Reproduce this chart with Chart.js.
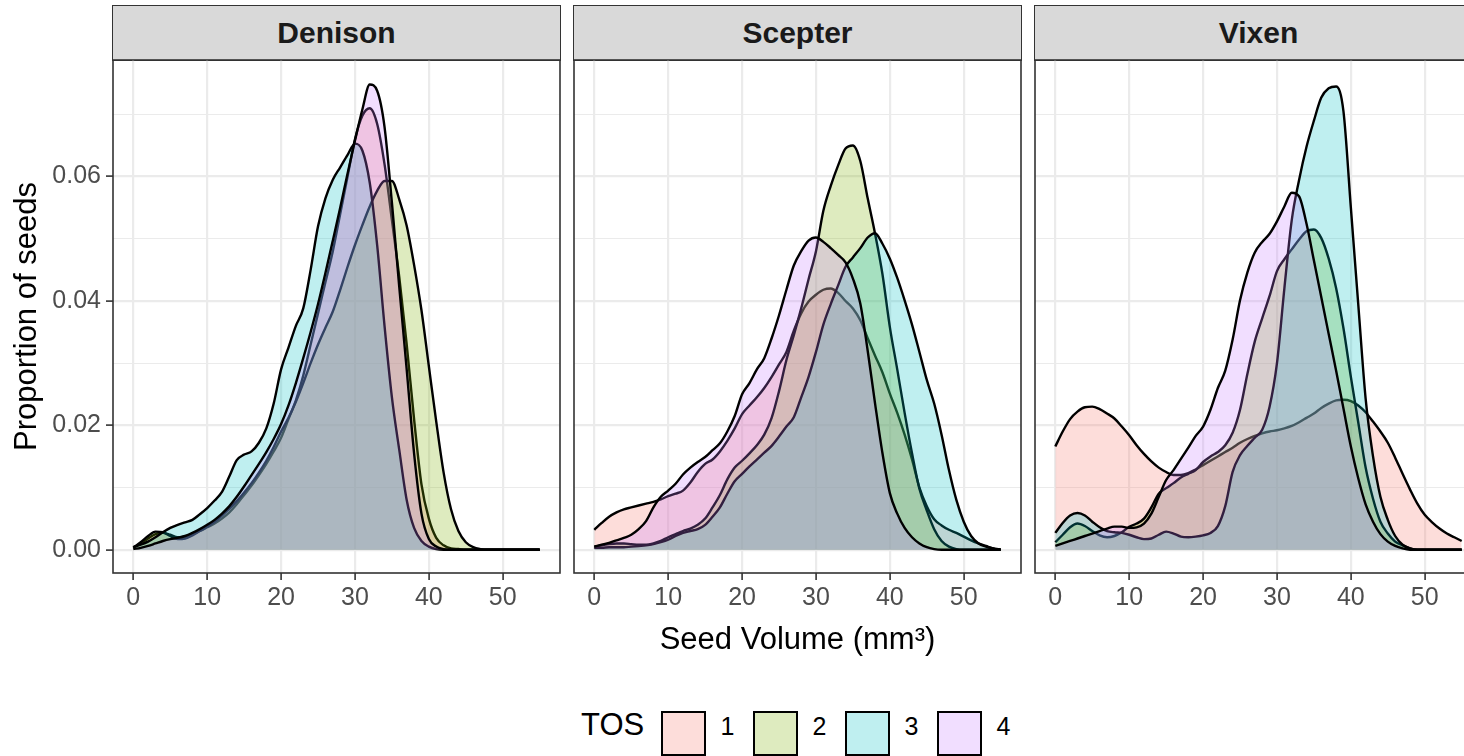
<!DOCTYPE html>
<html>
<head>
<meta charset="utf-8">
<script src="https://cdn.jsdelivr.net/npm/chart.js@4.4.1/dist/chart.umd.min.js"></script>
<style>
  html, body { margin: 0; padding: 0; background: #fff; }
  body { width: 1464px; height: 756px; overflow: hidden; position: relative; font-family: 'Liberation Sans', Arial, sans-serif; }
  canvas { position: absolute; }
  .strip { position: absolute; top: 5px; height: 56px; box-sizing: border-box; background: #D9D9D9; border: 1.6px solid #333333;
           display: flex; align-items: center; justify-content: center; font-weight: bold; font-size: 30px; color: #1A1A1A; }
  .legend-text { position: absolute; line-height: 1; color: #000; white-space: nowrap; }
  .legend-key { position: absolute; width: 45px; height: 45px; box-sizing: border-box; border: 2px solid #000; }
</style>
</head>
<body>
<script>
// seed volume grid (mm^3) the densities were read at
const seedVolume = [0, 1, 2, 3, 4, 5, 6, 7, 8, 9, 10, 11, 12, 13, 14, 15, 16, 17, 18, 19,
  20, 21, 22, 23, 24, 25, 26, 27, 28, 29, 30, 31, 32, 33, 34, 35, 36, 37, 38, 39,
  40, 41, 42, 43, 44, 45, 46, 47, 48, 49, 50, 51, 52, 53, 54, 55];

const xTicks = [0, 10, 20, 30, 40, 50];
const yTicks = [0, 0.01, 0.02, 0.03, 0.04, 0.05, 0.06, 0.07];
const varieties = ['Denison', 'Scepter', 'Vixen'];
const tosLabels = ['1', '2', '3', '4'];
const tosColors = ['248,118,109', '124,174,0', '0,191,196', '199,124,255'];

// Denison
const denisonTos1 = [0.0004, 0.0010, 0.0018, 0.0025, 0.0027, 0.0024, 0.0020, 0.0021, 0.0025, 0.0030,
  0.0036, 0.0042, 0.0050, 0.0060, 0.0073, 0.0088, 0.0103, 0.0120, 0.0138, 0.0158,
  0.0180, 0.0210, 0.0240, 0.0280, 0.0330, 0.0380, 0.0430, 0.0480, 0.0540, 0.0600,
  0.0660, 0.0698, 0.0710, 0.0685, 0.0620, 0.0530, 0.0438, 0.0330, 0.0210, 0.0105,
  0.0050, 0.0019, 0.0007, 0.0002, 0.0001, 0, 0, 0, 0, 0, 0, 0, 0, 0, 0, 0];
const denisonTos2 = [0.0003, 0.0012, 0.0022, 0.0029, 0.0028, 0.0022, 0.0017, 0.0018, 0.0023, 0.0030,
  0.0037, 0.0045, 0.0055, 0.0066, 0.0078, 0.0092, 0.0107, 0.0124, 0.0143, 0.0165,
  0.0190, 0.0212, 0.0238, 0.0268, 0.0300, 0.0330, 0.0357, 0.0383, 0.0418, 0.0455,
  0.0490, 0.0522, 0.0552, 0.0577, 0.0593, 0.0593, 0.0563, 0.0521, 0.0458, 0.0385,
  0.0295, 0.0206, 0.0124, 0.0065, 0.0030, 0.0012, 0.0004, 0.0001, 0, 0, 0, 0, 0, 0, 0, 0];
const denisonTos3 = [0.0004, 0.0008, 0.0013, 0.0020, 0.0028, 0.0035, 0.0040, 0.0044, 0.0048, 0.0057,
  0.0067, 0.0079, 0.0093, 0.0118, 0.0144, 0.0153, 0.0158, 0.0172, 0.0195, 0.0235,
  0.0290, 0.0325, 0.0360, 0.0388, 0.0450, 0.0520, 0.0565, 0.0595, 0.0615, 0.0635,
  0.0653, 0.0642, 0.0590, 0.0490, 0.0360, 0.0245, 0.0160, 0.0080, 0.0035, 0.0014,
  0.0005, 0.0001, 0, 0, 0, 0, 0, 0, 0, 0, 0, 0, 0, 0, 0, 0];
const denisonTos4 = [0.0001, 0.0003, 0.0006, 0.0010, 0.0014, 0.0017, 0.0019, 0.0022, 0.0027, 0.0033,
  0.0040, 0.0048, 0.0058, 0.0070, 0.0085, 0.0102, 0.0120, 0.0138, 0.0157, 0.0178,
  0.0202, 0.0232, 0.0268, 0.0308, 0.0350, 0.0395, 0.0445, 0.0497, 0.0550, 0.0605,
  0.0658, 0.0708, 0.0748, 0.0738, 0.0680, 0.0558, 0.0422, 0.0290, 0.0155, 0.0058,
  0.0017, 0.0005, 0.0001, 0, 0, 0, 0, 0, 0, 0, 0, 0, 0, 0, 0, 0];

// Scepter
const scepterTos1 = [0.0032, 0.0043, 0.0053, 0.0060, 0.0065, 0.0068, 0.0071, 0.0074, 0.0077, 0.0081,
  0.0086, 0.0090, 0.0095, 0.0108, 0.0125, 0.0138, 0.0145, 0.0158, 0.0175, 0.0195,
  0.0218, 0.0232, 0.0245, 0.0260, 0.0278, 0.0298, 0.0318, 0.0352, 0.0380, 0.0399,
  0.0410, 0.0418, 0.0420, 0.0413, 0.0400, 0.0388, 0.0369, 0.0340, 0.0312, 0.0285,
  0.0251, 0.0220, 0.0185, 0.0145, 0.0100, 0.0070, 0.0049, 0.0039, 0.0032, 0.0027,
  0.0021, 0.0015, 0.0010, 0.0006, 0.0002, 0];
const scepterTos2 = [0.0005, 0.0007, 0.0009, 0.0010, 0.0010, 0.0009, 0.0008, 0.0008, 0.0010, 0.0014,
  0.0020, 0.0025, 0.0030, 0.0034, 0.0040, 0.0050, 0.0068, 0.0088, 0.0113, 0.0132,
  0.0143, 0.0155, 0.0168, 0.0185, 0.0212, 0.0255, 0.0305, 0.0345, 0.0388, 0.0435,
  0.0480, 0.0545, 0.0585, 0.0618, 0.0645, 0.0650, 0.0625, 0.0565, 0.0508, 0.0443,
  0.0358, 0.0290, 0.0220, 0.0155, 0.0098, 0.0063, 0.0033, 0.0014, 0.0005, 0.0001,
  0, 0, 0, 0, 0, 0];
const scepterTos3 = [0.0003, 0.0003, 0.0004, 0.0004, 0.0004, 0.0005, 0.0006, 0.0007, 0.0009, 0.0012,
  0.0016, 0.0022, 0.0027, 0.0030, 0.0033, 0.0040, 0.0053, 0.0068, 0.0090, 0.0110,
  0.0122, 0.0134, 0.0145, 0.0156, 0.0167, 0.0182, 0.0198, 0.0213, 0.0245, 0.0278,
  0.0318, 0.0362, 0.0395, 0.0425, 0.0455, 0.0470, 0.0485, 0.0502, 0.0509, 0.0492,
  0.0468, 0.0437, 0.0401, 0.0362, 0.0318, 0.0273, 0.0235, 0.0185, 0.0128, 0.0080,
  0.0045, 0.0022, 0.0010, 0.0005, 0.0002, 0];
const scepterTos4 = [0.0005, 0.0008, 0.0011, 0.0015, 0.0019, 0.0024, 0.0033, 0.0046, 0.0068, 0.0085,
  0.0095, 0.0106, 0.0121, 0.0132, 0.0141, 0.0149, 0.0160, 0.0171, 0.0190, 0.0215,
  0.0250, 0.0268, 0.0290, 0.0308, 0.0340, 0.0377, 0.0418, 0.0457, 0.0480, 0.0497,
  0.0502, 0.0495, 0.0485, 0.0474, 0.0462, 0.0436, 0.0396, 0.0320, 0.0235, 0.0155,
  0.0091, 0.0058, 0.0035, 0.0020, 0.0010, 0.0004, 0.0001, 0, 0, 0, 0, 0, 0, 0, 0, 0];

// Vixen
const vixenTos1 = [0.0166, 0.0190, 0.0210, 0.0222, 0.0229, 0.0230, 0.0226, 0.0219, 0.0211, 0.0198,
  0.0184, 0.0168, 0.0154, 0.0142, 0.0132, 0.0125, 0.0120, 0.0120, 0.0123, 0.0129,
  0.0136, 0.0143, 0.0150, 0.0157, 0.0164, 0.0172, 0.0178, 0.0183, 0.0187, 0.0190,
  0.0192, 0.0195, 0.0199, 0.0205, 0.0212, 0.0219, 0.0228, 0.0235, 0.0240, 0.0241,
  0.0239, 0.0232, 0.0221, 0.0206, 0.0190, 0.0172, 0.0148, 0.0122, 0.0097, 0.0074,
  0.0056, 0.0044, 0.0034, 0.0026, 0.0020, 0.0014];
const vixenTos2 = [0.0012, 0.0024, 0.0036, 0.0042, 0.0038, 0.0030, 0.0023, 0.0020, 0.0022, 0.0028,
  0.0037, 0.0042, 0.0050, 0.0068, 0.0090, 0.0099, 0.0107, 0.0116, 0.0122, 0.0128,
  0.0141, 0.0150, 0.0157, 0.0168, 0.0188, 0.0225, 0.0283, 0.0335, 0.0372, 0.0408,
  0.0448, 0.0467, 0.0483, 0.0499, 0.0512, 0.0515, 0.0501, 0.0468, 0.0421, 0.0356,
  0.0278, 0.0205, 0.0132, 0.0082, 0.0045, 0.0026, 0.0013, 0.0007, 0.0002, 0, 0, 0, 0, 0, 0, 0];
const vixenTos3 = [0.0027, 0.0043, 0.0055, 0.0059, 0.0055, 0.0045, 0.0036, 0.0030, 0.0028, 0.0027,
  0.0024, 0.0020, 0.0017, 0.0018, 0.0024, 0.0029, 0.0026, 0.0021, 0.0020, 0.0021,
  0.0023, 0.0027, 0.0038, 0.0070, 0.0125, 0.0152, 0.0167, 0.0180, 0.0193, 0.0230,
  0.0300, 0.0420, 0.0530, 0.0595, 0.0648, 0.0690, 0.0727, 0.0742, 0.0745, 0.0705,
  0.0550, 0.0395, 0.0243, 0.0150, 0.0085, 0.0048, 0.0022, 0.0008, 0.0002, 0, 0, 0, 0, 0, 0, 0];
const vixenTos4 = [0.0006, 0.0010, 0.0014, 0.0018, 0.0022, 0.0026, 0.0030, 0.0034, 0.0037, 0.0037,
  0.0035, 0.0036, 0.0042, 0.0058, 0.0085, 0.0112, 0.0128, 0.0146, 0.0164, 0.0183,
  0.0198, 0.0225, 0.0260, 0.0288, 0.0338, 0.0401, 0.0446, 0.0478, 0.0495, 0.0508,
  0.0528, 0.0552, 0.0574, 0.0568, 0.0524, 0.0465, 0.0406, 0.0347, 0.0288, 0.0227,
  0.0166, 0.0115, 0.0073, 0.0045, 0.0025, 0.0013, 0.0006, 0.0002, 0, 0, 0, 0, 0, 0, 0, 0];

const panelSeries = [
  [denisonTos1, denisonTos2, denisonTos3, denisonTos4],
  [scepterTos1, scepterTos2, scepterTos3, scepterTos4],
  [vixenTos1, vixenTos2, vixenTos3, vixenTos4]
];

// facet layout (px)
const panelLefts = [113, 574, 1035];
const panelW = 447;
const canvasTop = 50;
const canvasH = 620;

Chart.defaults.font.family = "'Liberation Sans', Arial, sans-serif";

const isMajor = v => Math.round(v * 100) % 2 === 0;

// ggplot-style panel border drawn over the data
const panelBorder = {
  id: 'panelBorder',
  afterDraw(chart) {
    const { ctx, chartArea: a } = chart;
    ctx.save();
    ctx.strokeStyle = '#333333';
    ctx.lineWidth = 1.6;
    ctx.strokeRect(a.left, a.top, a.right - a.left, a.bottom - a.top);
    ctx.restore();
  }
};

function makePanel(idx) {
  const first = idx === 0;
  const yAxisW = first ? panelLefts[0] : 0;
  const padL = first ? 0 : 2;

  const strip = document.createElement('div');
  strip.className = 'strip';
  strip.style.left = (panelLefts[idx] - 1) + 'px';
  strip.style.width = (panelW + 2) + 'px';
  strip.textContent = varieties[idx];
  document.body.appendChild(strip);

  const canvas = document.createElement('canvas');
  canvas.width = yAxisW + padL + panelW + 2;
  canvas.height = canvasH;
  canvas.style.left = (panelLefts[idx] - yAxisW - padL) + 'px';
  canvas.style.top = canvasTop + 'px';
  document.body.appendChild(canvas);

  return new Chart(canvas.getContext('2d'), {
    type: 'line',
    data: {
      datasets: panelSeries[idx].map((vals, k) => ({
        label: 'TOS ' + tosLabels[k],
        data: seedVolume.map((x, j) => ({ x: x, y: vals[j] })),
        borderColor: '#000000',
        borderWidth: 2.4,
        backgroundColor: `rgba(${tosColors[k]}, 0.25)`,
        fill: 'origin',
        pointRadius: 0,
        cubicInterpolationMode: 'monotone',
        order: tosLabels.length - k
      }))
    },
    options: {
      responsive: false,
      animation: false,
      devicePixelRatio: 1,
      layout: { autoPadding: false, padding: { left: padL, right: 2, top: 10, bottom: 0 } },
      plugins: {
        legend: { display: false },
        tooltip: { enabled: false }
      },
      scales: {
        x: {
          type: 'linear',
          min: -2.75,
          max: 57.75,
          afterBuildTicks: s => { s.ticks = xTicks.map(v => ({ value: v })); },
          afterFit: s => {
            s.height = canvasH - 10 - 513;
            s.paddingLeft = 0;
            s.paddingRight = 0;
          },
          ticks: { color: '#4D4D4D', font: { size: 25 }, padding: 3, maxRotation: 0, autoSkip: false, callback: v => String(v) },
          grid: { color: '#EBEBEB', lineWidth: 2.2, tickColor: '#333333', tickWidth: 1.6, tickLength: 7 },
          border: { display: false },
          title: {
            display: idx === 1,
            text: 'Seed Volume (mm³)',
            color: '#000000',
            font: { size: 31 },
            padding: { top: 0, bottom: 11 }
          }
        },
        y: {
          type: 'linear',
          min: -0.00375,
          max: 0.07875,
          afterBuildTicks: s => { s.ticks = yTicks.map(v => ({ value: v })); },
          afterFit: s => {
            s.width = yAxisW;
            s.paddingTop = 0;
            s.paddingBottom = 0;
          },
          ticks: { display: first, color: '#4D4D4D', font: { size: 25 }, padding: 5,
                   callback: v => isMajor(v) ? v.toFixed(2) : '' },
          grid: {
            color: '#EBEBEB',
            lineWidth: c => (c.tick && isMajor(c.tick.value)) ? 2.2 : 1.1,
            drawTicks: first,
            tickColor: c => (c.tick && isMajor(c.tick.value)) ? '#333333' : 'rgba(0,0,0,0)',
            tickWidth: 1.6,
            tickLength: 7
          },
          border: { display: false },
          title: {
            display: first,
            text: 'Proportion of seeds',
            color: '#000000',
            font: { size: 31 },
            padding: { top: 9, bottom: 0 }
          }
        }
      }
    },
    plugins: [panelBorder]
  });
}

varieties.forEach((_, i) => makePanel(i));

// legend: TOS fill keys
const legendBaseline = 735;
const title = document.createElement('div');
title.className = 'legend-text';
title.style.fontSize = '31px';
title.style.left = '581px';
title.style.top = (legendBaseline - 26.2) + 'px';
title.textContent = 'TOS';
document.body.appendChild(title);

tosLabels.forEach((lab, k) => {
  const key = document.createElement('div');
  key.className = 'legend-key';
  key.style.left = (661 + 92 * k) + 'px';
  key.style.top = '711px';
  key.style.background = `rgba(${tosColors[k]}, 0.25)`;
  document.body.appendChild(key);

  const txt = document.createElement('div');
  txt.className = 'legend-text';
  txt.style.fontSize = '25px';
  txt.style.left = (720.6 + 92 * k) + 'px';
  txt.style.top = (legendBaseline - 21.2) + 'px';
  txt.textContent = lab;
  document.body.appendChild(txt);
});
</script>
</body>
</html>
